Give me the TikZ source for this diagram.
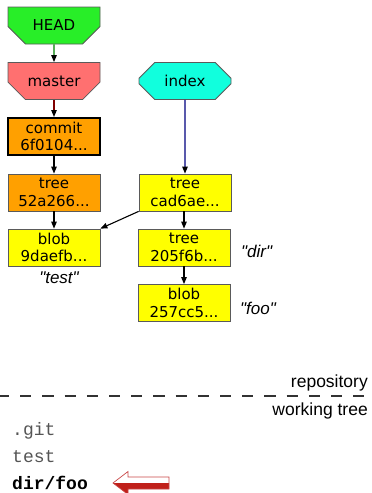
\documentclass[tikz,border=0pt]{standalone}
\usepackage{fontspec}
\usetikzlibrary{shapes.misc,arrows.meta}
\newfontfamily\djv{DejaVu Sans}
\newfontfamily\lbs{Liberation Sans}
\newfontfamily\lbm{Liberation Mono}
\definecolor{headgreen}{RGB}{40,238,40}
\definecolor{masterred}{RGB}{255,112,112}
\definecolor{indexcyan}{RGB}{17,255,221}
\definecolor{objorange}{RGB}{255,160,0}
\definecolor{objyellow}{RGB}{255,255,0}
\definecolor{bordergray}{RGB}{90,90,90}
\definecolor{wtgray}{RGB}{85,85,85}
\definecolor{arrowred}{RGB}{192,32,26}
\definecolor{arrowline}{RGB}{200,70,70}
\definecolor{edgegreen}{RGB}{0,128,0}
\definecolor{edgered}{RGB}{128,0,0}
\definecolor{edgeblue}{RGB}{0,0,128}
\definecolor{sepgray}{RGB}{50,50,50}
\tikzset{
  objbox/.style={rectangle, minimum width=92pt, minimum height=37pt, inner sep=0pt,
    draw=bordergray, line width=0.8pt, align=center,
    font=\djv\fontsize{15}{17.5}\selectfont},
  refbox/.style={objbox, chamfered rectangle, chamfered rectangle xsep=13pt,
    chamfered rectangle ysep=12pt,
    chamfered rectangle corners={south east,south west}},
  idxbox/.style={objbox, chamfered rectangle, chamfered rectangle xsep=10pt,
    chamfered rectangle ysep=10pt},
  link/.style={line width=1.1pt, -{Triangle[length=7pt,width=5.5pt,black]}},
  lbl/.style={font=\lbs\itshape\fontsize{17}{20}\selectfont, inner sep=0pt},
  sidetext/.style={font=\lbs\fontsize{17.5}{20}\selectfont, inner sep=0pt},
  wtfile/.style={font=\lbm\fontsize{18}{20}\selectfont, inner sep=0pt},
}
\begin{document}
\begin{tikzpicture}[x=1pt,y=-1pt]
\useasboundingbox (0,0) rectangle (372,493);
% nodes
\node[refbox, fill=headgreen] (head) at (54,25.5) {HEAD};
\node[refbox, fill=masterred] (master) at (54,81) {master};
\node[idxbox, fill=indexcyan] (index) at (185,81) {index};
\node[objbox, fill=objorange, draw=black, line width=2pt] (commit) at (54,136.5) {commit\\6f0104...};
\node[objbox, fill=objorange] (treeA) at (54,192.5) {tree\\52a266...};
\node[objbox, fill=objyellow] (blobA) at (54,247.5) {blob\\9daefb...};
\node[objbox, fill=objyellow] (treeB) at (185,192.5) {tree\\cad6ae...};
\node[objbox, fill=objyellow] (treeC) at (184,247.5) {tree\\205f6b...};
\node[objbox, fill=objyellow] (blobB) at (184,303) {blob\\257cc5...};
% labels
\node[lbl, anchor=base] (ltest) at (59,283) {"test"};
\node[lbl, anchor=base west] (ldir) at (241,257) {"dir"};
\node[lbl, anchor=base west] (lfoo) at (240,314) {"foo"};
% edges
\draw[link, draw=edgegreen] (head) -- (master);
\draw[link, draw=edgered] (master) -- (commit);
\draw[link, draw=edgeblue] (index) -- (treeB);
\draw[link] (commit) -- (treeA);
\draw[link] (treeA) -- (blobA);
\draw[link] (treeB.south west) -- (blobA.north east);
\draw[link] (treeB.south -| treeC) -- (treeC);
\draw[link] (treeC) -- (blobB);
% separator
\coordinate (sepL) at (-2,396);
\coordinate (sepR) at (372,396);
\draw[line width=2pt, draw=sepgray, dash pattern=on 11.2pt off 11pt] (sepL) -- (sepR);
\node[sidetext, anchor=base east] (repo) at (368,387) {repository};
\node[sidetext, anchor=base east] (wt) at (368,415) {working tree};
% working tree files
\node[wtfile, anchor=base west, text=wtgray] (fgit) at (12,435) {.git};
\node[wtfile, anchor=base west, text=wtgray] (ftest) at (12,462) {test};
\node[wtfile, anchor=base west, font=\lbm\bfseries\fontsize{18}{20}\selectfont] (fdir) at (12,489) {dir/foo};
% hollow red arrow
\fill[arrowred] (113,483) -- (169,483) -- (169,489) -- (128,489) -- (128,494.5) -- cycle;
\draw[arrowline, line width=0.7pt, line join=miter] (113,483) -- (128,471.5) -- (128,477) -- (169,477) -- (169,489) -- (128,489) -- (128,494.5) -- cycle;
\end{tikzpicture}
\end{document}
